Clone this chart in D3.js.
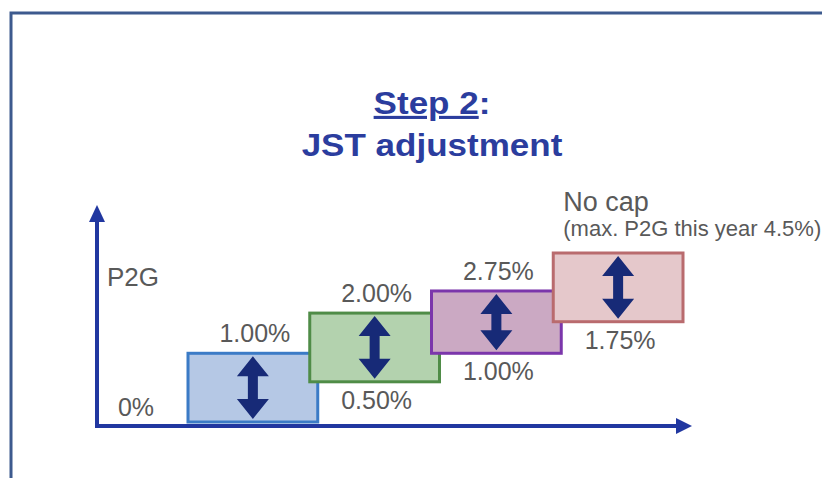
<!DOCTYPE html>
<html>
<head>
<meta charset="utf-8">
<script src="https://cdn.jsdelivr.net/npm/d3@7"></script>
<style>
  body { margin: 0; background: #fff; }
  svg { display: block; font-family: "Liberation Sans", Arial, sans-serif; }
</style>
</head>
<body>
<svg id="chart" width="822" height="478"></svg>
<script>
// steps of the JST adjustment (P2G range, in %)
var steps = ["1", "2", "3", "4"]
var lowValues = [0, 0.5, 1.0, 1.75]
var highValues = [1.0, 2.0, 2.75, 4.5]
var lowLabels = ["0%", "0.50%", "1.00%", "1.75%"]
var highLabels = ["1.00%", "2.00%", "2.75%", "No cap"]
var capNote = "(max. P2G this year 4.5%)"

var fills = ["#b5c8e5", "#b3d2ae", "#cba9c3", "#e5c8cb"]
var strokes = ["#3b7bc6", "#4f8c47", "#7b36ab", "#b96b6e"]
var axisColor = "#2137a0"
var arrowColor = "#172a77"
var textColor = "#595959"

var svg = d3.select("#chart")

// frame
svg.append("path")
    .attr("d", "M11,480 L11,13 L830,13")
    .attr("fill", "none")
    .attr("stroke", "#3d5a8e")
    .attr("stroke-width", 3)

// title (the original is a little stretched horizontally)
var titleG = svg.append("g")
    .attr("transform", "translate(432,0) scale(1.13,1)")
    .attr("fill", "#2b3d9e")
    .attr("font-weight", "bold")
    .attr("font-size", 31)
    .attr("text-anchor", "middle")
var title = titleG.append("text").attr("x", 0).attr("y", 114)
title.append("tspan").attr("text-decoration", "underline").text("Step 2")
title.append("tspan").text(":")
titleG.append("text").attr("x", 0).attr("y", 156).text("JST adjustment")

// scales: schematic, steps overlap a bit
var x = d3.scaleBand().domain(steps).range([188, 675]).padding(0)
var overlap = 8
var y = d3.scaleSymlog().constant(1).domain([0, 4.5]).range([422, 253])
var boxW = x.bandwidth() + overlap

var data = steps.map(function(s, i) {
  return { step: s, lo: lowValues[i], hi: highValues[i], loLabel: lowLabels[i], hiLabel: highLabels[i], i: i }
})

// axes
var x0 = 97, yAxis = 426
svg.append("line")
    .attr("x1", x0).attr("x2", 680)
    .attr("y1", yAxis).attr("y2", yAxis)
    .attr("stroke", axisColor).attr("stroke-width", 4)
svg.append("path")
    .attr("d", "M692," + yAxis + " L676," + (yAxis - 8) + " L676," + (yAxis + 8) + " Z")
    .attr("fill", axisColor)
svg.append("line")
    .attr("x1", x0).attr("x2", x0)
    .attr("y1", yAxis + 2).attr("y2", 218)
    .attr("stroke", axisColor).attr("stroke-width", 4)
svg.append("path")
    .attr("d", "M" + x0 + ",205 L" + (x0 - 8) + ",222 L" + (x0 + 8) + ",222 Z")
    .attr("fill", axisColor)

svg.append("text")
    .attr("x", 107).attr("y", 286)
    .attr("fill", textColor).attr("font-size", 26)
    .text("P2G")

// boxes
var boxes = svg.append("g").selectAll("g.step")
    .data(data)
    .join("g")
    .attr("class", "step")

boxes.append("rect")
    .attr("x", d => x(d.step))
    .attr("y", d => y(d.hi))
    .attr("width", boxW)
    .attr("height", d => y(d.lo) - y(d.hi))
    .attr("fill", d => fills[d.i])
    .attr("stroke", d => strokes[d.i])
    .attr("stroke-width", 3)

// double arrows
function doubleArrow(cx, top, bottom) {
  var hw = 16, sw = 5, hh = 20
  return "M" + cx + "," + top +
    " L" + (cx + hw) + "," + (top + hh) +
    " L" + (cx + sw) + "," + (top + hh) +
    " L" + (cx + sw) + "," + (bottom - hh) +
    " L" + (cx + hw) + "," + (bottom - hh) +
    " L" + cx + "," + bottom +
    " L" + (cx - hw) + "," + (bottom - hh) +
    " L" + (cx - sw) + "," + (bottom - hh) +
    " L" + (cx - sw) + "," + (top + hh) +
    " L" + (cx - hw) + "," + (top + hh) + " Z"
}
boxes.append("path")
    .attr("d", d => doubleArrow(x(d.step) + boxW / 2, y(d.hi) + 3, y(d.lo) - 3))
    .attr("fill", arrowColor)

// upper labels
boxes.filter(d => d.i < 3).append("text")
    .attr("x", d => x(d.step) + boxW / 2 + 2)
    .attr("y", d => y(d.hi) - 11)
    .attr("text-anchor", "middle")
    .attr("fill", textColor)
    .attr("font-size", 25)
    .text(d => d.hiLabel)

// "no cap" label for the last step
svg.append("text")
    .attr("x", x(steps[3]) + 10)
    .attr("y", y(highValues[3]) - 42)
    .attr("fill", textColor)
    .attr("font-size", 27)
    .text(highLabels[3])

svg.append("text")
    .attr("x", x(steps[3]) + 10)
    .attr("y", y(highValues[3]) - 17)
    .attr("fill", textColor)
    .attr("font-size", 22)
    .text(capNote)

// lower labels
boxes.append("text")
    .attr("x", d => d.i === 0 ? 136 : x(d.step) + boxW / 2 + 2)
    .attr("y", d => d.i === 0 ? 416 : y(d.lo) + 27)
    .attr("text-anchor", "middle")
    .attr("fill", textColor)
    .attr("font-size", 25)
    .text(d => d.loLabel)
</script>
</body>
</html>
